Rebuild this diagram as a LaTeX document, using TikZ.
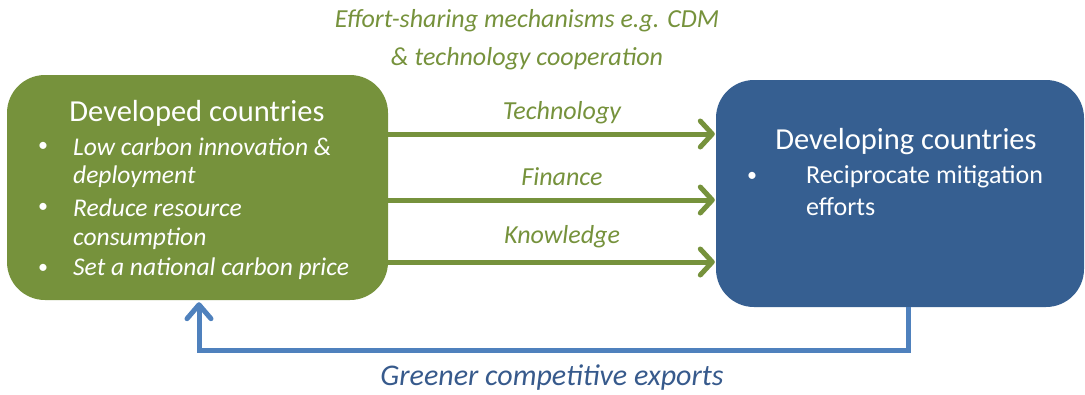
\documentclass[tikz,border=0pt]{standalone}
\usepackage{fontspec}
\setmainfont{Carlito}
\usetikzlibrary{arrows.meta,calc}
\definecolor{gbox}{RGB}{118,146,60}
\definecolor{bbox}{RGB}{54,95,145}
\definecolor{bline}{RGB}{79,129,189}
\definecolor{btext}{RGB}{55,90,140}
\tikzset{
  boxstyle/.style={rounded corners=38pt, inner sep=0pt},
  garrow/.style={draw=gbox, line width=5pt, line cap=round, -{Straight Barb[length=12pt,width=26pt,line width=5pt,round]}},
  barrow/.style={draw=bline, line width=5pt, -{Straight Barb[length=14pt,width=24pt,line width=5pt,round]}},
  lbl/.style={text=gbox, font=\fontsize{26}{30}\selectfont\itshape, inner sep=0pt},
  ttl/.style={text=white, font=\fontsize{30.5}{34}\selectfont, inner sep=0pt},
  itm/.style={text=white, font=\fontsize{25.5}{30.5}\selectfont\itshape, inner sep=0pt, anchor=west},
  itmu/.style={text=white, font=\fontsize{26}{30}\selectfont, inner sep=0pt, anchor=west},
  bul/.style={text=white, font=\fontsize{20}{26}\selectfont, inner sep=0pt},
}
\begin{document}
\begin{tikzpicture}[x=1pt,y=-1pt]
\useasboundingbox (0,0) rectangle (1085,394);
% boxes
\node[boxstyle, fill=gbox, minimum width=381pt, minimum height=225pt] (dev) at (197.5,187.5) {};
\node[boxstyle, fill=bbox, minimum width=368pt, minimum height=227pt] (dvl) at (900,193.5) {};
% top label
\node[text=gbox, font=\fontsize{26}{38}\selectfont\itshape, align=center, inner sep=0pt] (eff) at (527,40) {Effort-sharing mechanisms e.g. CDM\\\& technology cooperation};
% green box text
\node[ttl] (devt) at (197,113) {Developed countries};
\node[bul] (b1) at (43,147) {•};
\node[itm] (i1) at (73,147) {Low carbon innovation \&};
\node[itm] (i1b) at (73,177) {deployment};
\node[bul] (b2) at (43,208) {•};
\node[itm] (i2) at (73,208) {Reduce resource};
\node[itm] (i2b) at (73,238.5) {consumption};
\node[bul] (b3) at (43,269) {•};
\node[itm] (i3) at (73,269) {Set a national carbon price};
% blue box text
\node[ttl] (dvlt) at (906,142) {Developing countries};
\node[bul] (b4) at (752,177) {•};
\node[itmu] (i4) at (806,177) {Reciprocate mitigation};
\node[itmu] (i4b) at (806,207) {efforts};
% arrows
\coordinate (a1) at ([yshift=53.5pt]dev.east);
\coordinate (a2) at ([yshift=-12.5pt]dev.east);
\coordinate (a3) at ([yshift=-74.5pt]dev.east);
\draw[garrow] (a1) -- ([xshift=-1pt]a1 -| dvl.west);
\draw[garrow] (a2) -- ([xshift=-1pt]a2 -| dvl.west);
\draw[garrow] (a3) -- ([xshift=-1pt]a3 -| dvl.west);
\node[lbl] (tech) at (562,113) {Technology};
\node[lbl] (fin) at (562,177) {Finance};
\node[lbl] (know) at (562,237) {Knowledge};
% feedback
\coordinate (fb) at ([xshift=8pt]dvl.south);
\coordinate (fe) at ([xshift=1.5pt,yshift=-2pt]dev.south);
\draw[barrow] (fb) |- ([yshift=-48pt]fe) -- (fe);
\node[text=btext, font=\fontsize{30}{34}\selectfont\itshape, inner sep=0pt] (exp) at (552,378) {Greener competitive exports};
\end{tikzpicture}
\end{document}
